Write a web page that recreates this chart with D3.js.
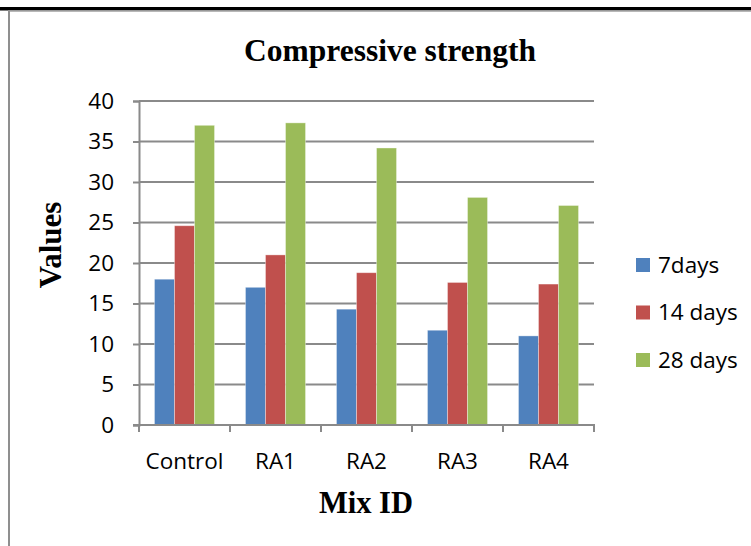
<!DOCTYPE html>
<html>
<head>
<meta charset="utf-8">
<script src="https://cdn.jsdelivr.net/npm/d3@7"></script>
<style>
  html, body { margin: 0; padding: 0; background: #fff; }
  svg { display: block; }
</style>
</head>
<body>
<svg id="chart" width="751" height="546"></svg>
<script>
// Compressive strength (MPa) by mix and curing age
const mixes = ["Control", "RA1", "RA2", "RA3", "RA4"];
const seriesNames = ["7days", "14 days", "28 days"];
const days7  = [18.0, 17.0, 14.3, 11.7, 11.0];
const days14 = [24.6, 21.0, 18.8, 17.6, 17.4];
const days28 = [37.0, 37.3, 34.2, 28.1, 27.1];
const yTicks = [0, 5, 10, 15, 20, 25, 30, 35, 40];
const colors = ["#4F81BD", "#C0504D", "#9BBB59"];

const seriesValues = [days7, days14, days28];
const rows = mixes.map((m, i) => ({
  mix: m,
  values: seriesValues.map((vals, s) => ({ key: seriesNames[s], value: vals[i], s }))
}));

const svg = d3.select("#chart");
const tickFont = "'Open Sans', 'Noto Sans', sans-serif";
const serif = "'Liberation Serif', 'Times New Roman', serif";
const gridColor = "#8a8a8a";

// Page frame: heavy rule on top, light frame below it
svg.append("rect").attr("x", 0).attr("y", 7).attr("width", 751).attr("height", 3.5).attr("fill", "#000");
svg.append("line").attr("x1", 8).attr("x2", 751).attr("y1", 11).attr("y2", 11)
  .attr("stroke", "#a0a0a0").attr("stroke-width", 1.5);
svg.append("line").attr("x1", 9).attr("x2", 9).attr("y1", 10.5).attr("y2", 546)
  .attr("stroke", "#8f8f8f").attr("stroke-width", 2);

const plot = { left: 139, right: 594, top: 101, bottom: 425 };

const x = d3.scaleBand().domain(mixes).range([plot.left, plot.right]).paddingInner(0).paddingOuter(0);
const bandPad = 0.17;
const xs = d3.scaleBand().domain(seriesNames)
  .range([x.bandwidth() * bandPad, x.bandwidth() * (1 - bandPad)]).padding(0);
const y = d3.scaleLinear().domain([0, 40]).range([plot.bottom, plot.top]);

// Horizontal gridlines
svg.append("g")
  .selectAll("line")
  .data(yTicks.filter(t => t > 0))
  .join("line")
  .attr("x1", plot.left).attr("x2", plot.right)
  .attr("y1", d => y(d)).attr("y2", d => y(d))
  .attr("stroke", gridColor).attr("stroke-width", 2);

// Bars
const groups = svg.append("g")
  .selectAll("g")
  .data(rows)
  .join("g")
  .attr("transform", d => `translate(${x(d.mix)},0)`);

groups.selectAll("rect")
  .data(d => d.values)
  .join("rect")
  .attr("x", d => xs(d.key))
  .attr("width", xs.bandwidth())
  .attr("y", d => y(d.value))
  .attr("height", d => y(0) - y(d.value))
  .attr("fill", d => colors[d.s])
  .attr("stroke", "rgba(255,255,255,0.45)")
  .attr("stroke-width", 0.8);

// Y axis
const yAxis = d3.axisLeft(y).tickValues(yTicks).tickSize(6).tickPadding(19).tickFormat(d3.format("d"));
const gy = svg.append("g").attr("transform", `translate(${plot.left},0)`).call(yAxis);
gy.select(".domain").attr("stroke", gridColor).attr("stroke-width", 2);
gy.selectAll(".tick line").attr("stroke", gridColor).attr("stroke-width", 2);
gy.selectAll(".tick text").attr("font-family", tickFont).attr("font-size", 22.5).attr("fill", "#000");

// X axis with tick marks on category boundaries
const gx = svg.append("g").attr("transform", `translate(0,${plot.bottom})`);
gx.append("line").attr("x1", plot.left - 6).attr("x2", plot.right + 1)
  .attr("y1", 0).attr("y2", 0).attr("stroke", gridColor).attr("stroke-width", 2);
const boundaries = mixes.map(m => x(m)).concat([x(mixes[mixes.length - 1]) + x.bandwidth()]);
gx.selectAll("line.bound")
  .data(boundaries)
  .join("line")
  .attr("class", "bound")
  .attr("x1", d => d).attr("x2", d => d)
  .attr("y1", 0).attr("y2", 7)
  .attr("stroke", gridColor).attr("stroke-width", 2);
gx.selectAll("text")
  .data(mixes)
  .join("text")
  .attr("x", d => x(d) + x.bandwidth() / 2)
  .attr("y", 44)
  .attr("text-anchor", "middle")
  .attr("font-family", tickFont).attr("font-size", 22.5).attr("fill", "#000")
  .text(d => d);

// Titles
svg.append("text")
  .attr("x", 390).attr("y", 61)
  .attr("text-anchor", "middle")
  .attr("font-family", serif).attr("font-weight", "bold").attr("font-size", 31.5)
  .text("Compressive strength");

svg.append("text")
  .attr("transform", "translate(61,245) rotate(-90)")
  .attr("text-anchor", "middle")
  .attr("font-family", serif).attr("font-weight", "bold").attr("font-size", 31)
  .text("Values");

svg.append("text")
  .attr("x", 366).attr("y", 513)
  .attr("text-anchor", "middle")
  .attr("font-family", serif).attr("font-weight", "bold").attr("font-size", 30.5)
  .text("Mix ID");

// Legend
const legend = svg.append("g")
  .selectAll("g")
  .data(seriesNames)
  .join("g")
  .attr("transform", (d, i) => `translate(636,${258 + i * 47.5})`);
legend.append("rect").attr("width", 14).attr("height", 14).attr("fill", (d, i) => colors[i]);
legend.append("text")
  .attr("x", 22).attr("y", 14.5)
  .attr("font-family", tickFont).attr("font-size", 22.5).attr("fill", "#000")
  .text(d => d);
</script>
</body>
</html>
